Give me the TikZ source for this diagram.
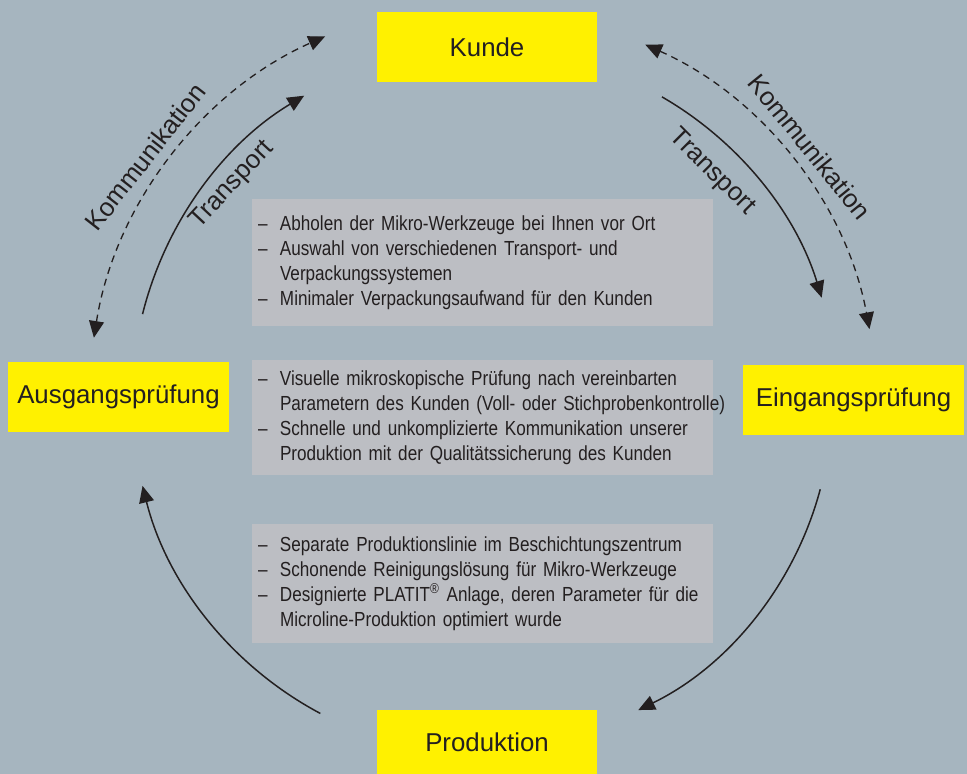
\documentclass[tikz,border=0pt]{standalone}
\usepackage{fontspec}
\setmainfont{Liberation Sans}
\newfontfamily\narrowfont[FakeStretch=0.84]{Liberation Sans}
\usepackage{xcolor}
\usepackage{tikz}
\usetikzlibrary{positioning,arrows.meta,calc}
\definecolor{bgcolor}{RGB}{166,181,191}
\definecolor{stationcolor}{RGB}{255,241,0}
\definecolor{notecolor}{RGB}{188,190,195}
\definecolor{inkcolor}{RGB}{35,31,32}
\newcommand{\notefont}{\narrowfont\fontsize{11.6}{14.3}\selectfont\spaceskip=0.21em\relax}
\newcommand{\dashitem}[1]{\mbox{\makebox[12.5pt][l]{–}#1}}
\newcommand{\contline}[1]{\mbox{\hspace*{12.5pt}#1}}

\begin{document}
\begin{tikzpicture}[
  x=0.02cm, y=-0.02cm,
  station/.style={rectangle, fill=stationcolor, minimum width=4.4cm, minimum height=1.4cm, inner sep=0pt, text=inkcolor, font=\fontsize{14.7}{17}\selectfont},
  note/.style={rectangle, fill=notecolor, minimum width=9.22cm, text width=8.98cm, inner xsep=0.12cm, inner ysep=0pt, align=left, text=inkcolor, font=\notefont},
  lbl/.style={inner sep=0pt, text=inkcolor, font=\fontsize{14.7}{17}\selectfont},
  flow/.style={-{Triangle[length=9.5pt,width=8.5pt]}, line width=0.85pt, draw=inkcolor},
  talk/.style={{Triangle[length=9.5pt,width=8.5pt]}-{Triangle[length=9.5pt,width=8.5pt]}, line width=0.75pt, draw=inkcolor, dash pattern=on 4pt off 3pt}
]
  % Background
  \fill[bgcolor] (0,0) rectangle (967,774);
  \useasboundingbox (0,0) rectangle (967,774);

  % Stations
  \node[station] (kunde) at (487,47) {Kunde};
  \node[station, minimum width=4.42cm] (ausgang) at (118.5,397) {Ausgangsprüfung};
  \node[station, minimum width=4.42cm] (eingang) at (853.5,400) {Eingangsprüfung};
  \node[station, minimum height=1.28cm] (produktion) at (487,742) {Produktion};

  % Notes
  \node[note, minimum height=2.54cm] (transportnote) at (482.5,262.5) {%
    \dashitem{Abholen der Mikro-Werkzeuge bei Ihnen vor Ort}\\
    \dashitem{Auswahl von verschiedenen Transport- und}\\
    \contline{Verpackungssystemen}\\
    \dashitem{Minimaler Verpackungsaufwand für den Kunden}};
  \node[note, minimum height=2.3cm] (pruefnote) at (482.5,417.5) {%
    \dashitem{Visuelle mikroskopische Prüfung nach vereinbarten}\\
    \contline{Parametern des Kunden (Voll- oder Stichprobenkontrolle)}\\
    \dashitem{Schnelle und unkomplizierte Kommunikation unserer}\\
    \contline{Produktion mit der Qualitätssicherung des Kunden}};
  \node[note, minimum height=2.38cm] (prodnote) at (482.5,583.5) {%
    \dashitem{Separate Produktionslinie im Beschichtungszentrum}\\
    \dashitem{Schonende Reinigungslösung für Mikro-Werkzeuge}\\
    \dashitem{Designierte PLATIT\textsuperscript{®} Anlage, deren Parameter für die}\\
    \contline{Microline-Produktion optimiert wurde}};

  % Cycle
  \coordinate (hub) at (487,400);
  \coordinate (ausgang-out) at ($(hub)+(194:355)$);
  \coordinate (kunde-out) at ($(hub)+(300:350)$);
  \coordinate (eingang-out) at ($(hub)+(15:345)$);
  \coordinate (produktion-out) at ($(hub)+(118:355)$);
  \coordinate (talk-left) at ($(hub)+(189:398)$);
  \coordinate (talk-right) at ($(hub)+(294:389)$);

  \draw[flow] (ausgang-out) arc[start angle=194, end angle=239, radius=355];
  \draw[flow] (kunde-out) arc[start angle=300, end angle=343, radius=350];
  \draw[flow] (eingang-out) arc[start angle=15, end angle=64, radius=345];
  \draw[flow] (produktion-out) arc[start angle=118, end angle=166, radius=355];
  \draw[talk] (talk-left) arc[start angle=189, end angle=246, radius=398];
  \draw[talk] (talk-right) arc[start angle=294, end angle=349.5, radius=389];

  % Labels
  \node[lbl, rotate=52] (komm-left) at (145,157) {Kommunikation};
  \node[lbl, rotate=47] (trans-left) at (232,185) {Transport};
  \node[lbl, rotate=-51] (komm-right) at (810,147) {Kommunikation};
  \node[lbl, rotate=-45] (trans-right) at (712,172) {Transport};

\end{tikzpicture}
\end{document}
